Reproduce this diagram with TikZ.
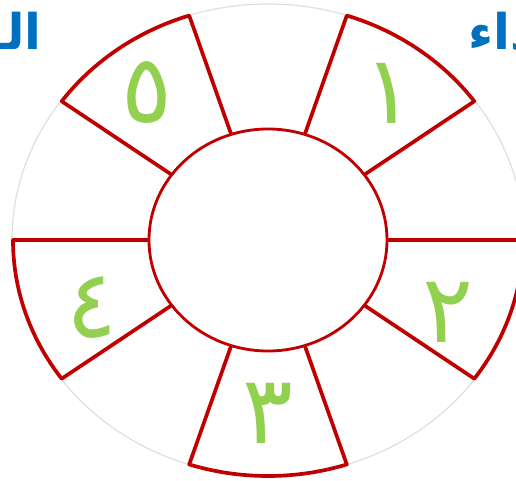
\documentclass[tikz,border=0pt]{standalone}
\usepackage{fontspec}
\newfontfamily\arabicfont[Script=Arabic]{DejaVu Sans}
\TeXXeTstate=1
\definecolor{ringred}{HTML}{C00000}
\definecolor{digitgreen}{HTML}{92D050}
\definecolor{titleblue}{HTML}{0070C0}
\begin{document}
\begin{tikzpicture}[x=0.02cm, y=0.02cm,
    sectorline/.style={ringred, line width=2.1pt, line join=round},
    digit/.style={digitgreen, font=\arabicfont\fontsize{54}{58}\selectfont, inner sep=0pt},
    titletext/.style={titleblue, font=\arabicfont\bfseries\fontsize{28}{32}\selectfont, inner sep=0pt}]
    \useasboundingbox (-268,-240) rectangle (248,240);

    % outer guide circle
    \draw[gray!25, line width=0.7pt] (0,0) ellipse [x radius=256, y radius=236];

    % five sectors, every 72 degrees
    \foreach \a in {36,108,180,252,324} {
        \draw[sectorline] ({119*cos(\a)},{111*sin(\a)}) -- ({255*cos(\a)},{236*sin(\a)})
            arc[start angle=\a, end angle=\a+36, x radius=255, y radius=236]
            -- ({119*cos(\a+36)},{111*sin(\a+36)});
    }

    % inner disc
    \draw[ringred, line width=1.6pt, fill=white] (0,0) ellipse [x radius=119, y radius=111];

    % numbers
    \node[digit] (one) at (121,147) {١};
    \node[digit] (two) at (180,-72) {٢};
    \node[digit] (three) at (0,-173) {٣};
    \node[digit] (four) at (-176,-68) {٤};
    \node[digit] (five) at (-121,148) {٥};

    % cut titles
    \node[titletext, anchor=base east] (lefttitle) at (-226,190) {\beginR الـــــ\endR};
    \node[titletext, anchor=base west] (righttitle) at (200,190) {\beginR داء\endR};
\end{tikzpicture}
\end{document}
